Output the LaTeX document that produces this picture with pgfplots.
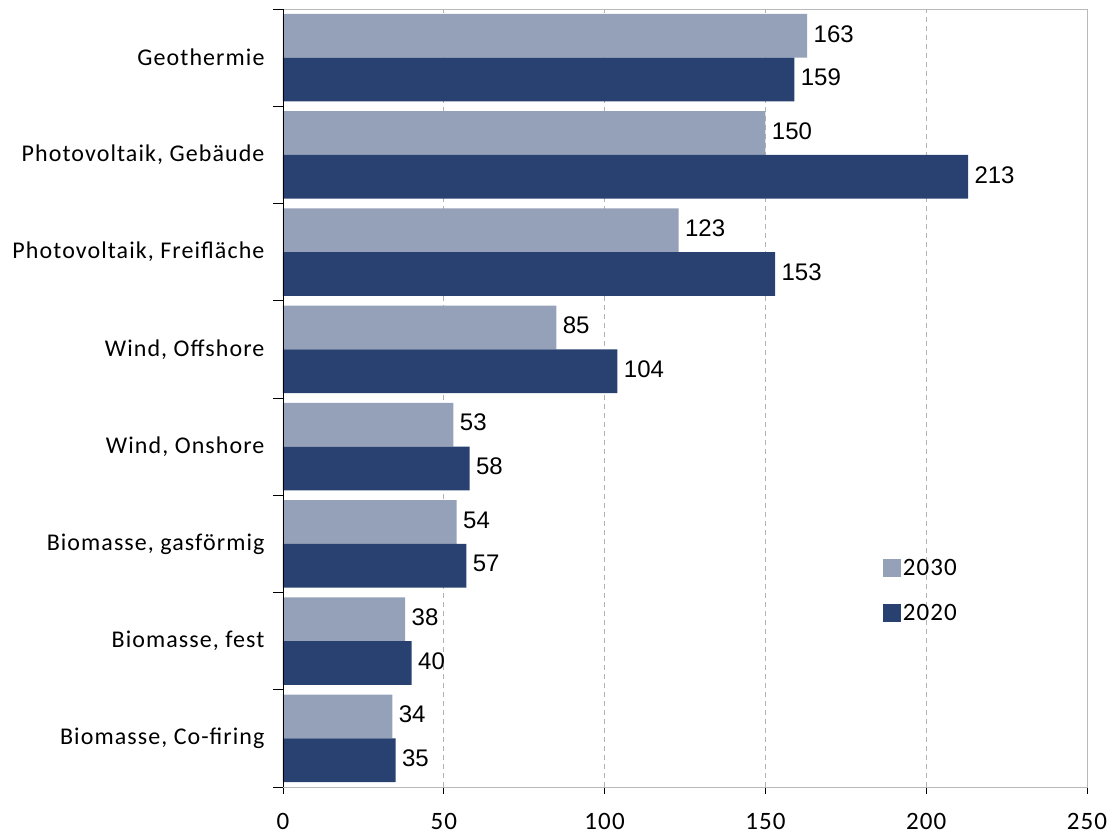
\documentclass[border=0pt]{standalone}
\usepackage{fontspec}
\usepackage{pgfplots}
\pgfplotsset{compat=1.18}
\setmainfont{Carlito}
\newfontfamily\numfont{Liberation Sans}
\newfontfamily\catfont[LetterSpace=4.5]{Carlito}
\definecolor{cLight}{HTML}{95A1B8}
\definecolor{cDark}{HTML}{294170}
\begin{document}
\begin{tikzpicture}[x=1pt,y=1pt]
\path[use as bounding box] (-283,-47) rectangle (829,787);
\begin{axis}[
  at={(0,0)}, anchor=south west,
  scale only axis, width=804pt, height=778pt,
  xbar, bar width=0.45,
  xmin=0, xmax=250, ymin=-0.5, ymax=7.5,
  xtick={0,50,100,150,200,250},
  xtick pos=bottom, ytick pos=left,
  tick align=outside,
  major tick length=7pt, minor tick length=10pt,
  ytick={0,...,7},
  yticklabels={{Biomasse, Co-firing},{Biomasse, fest},{Biomasse, gasförmig},{Wind, Onshore},{Wind, Offshore},{Photovoltaik, Freifläche},{Photovoltaik, Gebäude},{Geothermie}},
  minor ytick={-0.5,0.5,...,7.5},
  major y tick style={draw=none},
  minor y tick style={black, line width=0.8pt},
  major x tick style={black, line width=0.8pt},
  yticklabel style={font=\catfont\fontsize{24}{28}\selectfont, xshift=-8pt},
  xticklabel style={font=\catfont\fontsize{25}{30}\selectfont, yshift=-16pt},
  /pgf/number format/assume math mode=true,
  xmajorgrids, grid style={gray!60, dash pattern=on 5pt off 4pt, line width=0.7pt},
  axis line style={gray!55, line width=0.8pt},
  nodes near coords,
  every node near coord/.append style={font=\numfont\fontsize{24}{28}\selectfont, black, xshift=3pt, yshift=2pt},
  legend style={at={(0.742,0.298)}, anchor=north west, draw=none, fill=none,
    font=\catfont\fontsize{25}{30}\selectfont, row sep=23pt,
    /tikz/every even column/.append style={column sep=2pt}},
  legend cell align=left,
  legend image code/.code={\fill[#1] (0pt,-9pt) rectangle (18pt,9pt);},
]
\addplot[draw=none, fill=cLight, bar shift=0.225] coordinates {
(34,0) (38,1) (54,2) (53,3) (85,4) (123,5) (150,6) (163,7)};
\addlegendentry{2030}
\addplot[draw=none, fill=cDark, bar shift=-0.225] coordinates {
(35,0) (40,1) (57,2) (58,3) (104,4) (153,5) (213,6) (159,7)};
\addlegendentry{2020}
\draw[black, line width=0.8pt] (rel axis cs:0,1) -- (rel axis cs:0,0) -- (rel axis cs:1,0);
\end{axis}
\end{tikzpicture}
\end{document}
